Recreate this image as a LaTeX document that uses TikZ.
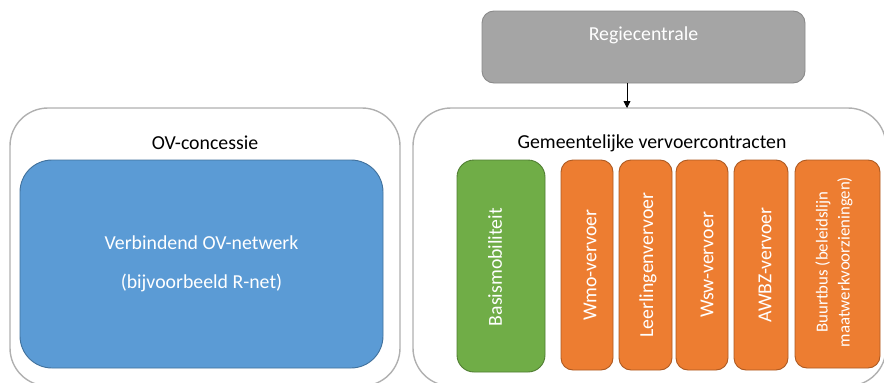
\documentclass[tikz,border=0pt]{standalone}
\usepackage{fontspec}
\setmainfont{Carlito}
\usetikzlibrary{arrows.meta}
\definecolor{outerline}{HTML}{B0B0B0}
\definecolor{grayfill}{HTML}{A5A5A5}
\definecolor{grayline}{HTML}{8A8A8A}
\definecolor{bluefill}{HTML}{5B9BD5}
\definecolor{blueline}{HTML}{41719C}
\definecolor{greenfill}{HTML}{70AD47}
\definecolor{greenline}{HTML}{507E32}
\definecolor{orangefill}{HTML}{ED7D31}
\definecolor{orangeline}{HTML}{AE5A21}
\tikzset{
  box/.style args={#1/#2}{draw, inner sep=0pt, outer sep=0pt, minimum width=#1pt, minimum height=#2pt},
  outerbox/.style={box=#1, draw=outerline, line width=1.4pt, fill=white, rounded corners=38pt},
  ttl/.style={font=\fontsize{19.8}{24}\selectfont, text=black},
  graybox/.style={box=#1, fill=grayfill, draw=grayline, line width=0.9pt, rounded corners=12pt},
  bluebox/.style={box=#1, fill=bluefill, draw=blueline, line width=0.9pt, rounded corners=32pt,
    text=white, font=\fontsize{19.8}{24}\selectfont, align=center},
  greenbox/.style={box=#1, fill=greenfill, draw=greenline, line width=0.9pt, rounded corners=17pt},
  orangebox/.style={box=#1, fill=orangefill, draw=orangeline, line width=0.9pt, rounded corners=12pt},
  vtext/.style={rotate=90, text=white, font=\fontsize{19.8}{24}\selectfont, inner sep=0pt},
}
\begin{document}
\begin{tikzpicture}[x=1pt,y=-1pt]
\useasboundingbox (0,0) rectangle (884,383);
\clip (0,0) rectangle (884,383);
% outer containers
\node[outerbox=390/278] (ov) at (205,247) {};
\node[outerbox=473/278] (gem) at (649.5,247) {};
\node[ttl] (ovt) at (205,143) {OV-concessie};
\node[ttl] (gemt) at (652,143) {Gemeentelijke vervoercontracten};
% Regiecentrale
\node[graybox=323/72] (regie) at (643.5,47) {};
\node[text=white, font=\fontsize{19.8}{24}\selectfont] (regiet) at (643.5,35) {Regiecentrale};
% arrow
\coordinate (ax) at (627,0);
\draw[line width=0.8pt, -{Triangle[width=7pt,length=7pt]}] (regie.south -| ax) -- (gem.north -| ax);
% blue
\node[bluebox=363/208] (blue) at (201.5,264) {Verbindend OV-netwerk\\[15pt](bijvoorbeeld R-net)};
% green
\node[greenbox=88/212] (green) at (501,266) {};
\node[vtext] (greent) at (495,267) {Basismobiliteit};
% orange
\node[orangebox=52/210] (o1) at (587,265) {};
\node[orangebox=53/210] (o2) at (645.5,265) {};
\node[orangebox=52/210] (o3) at (702,265) {};
\node[orangebox=54/210] (o4) at (761,265) {};
\node[orangebox=85/208] (o5) at (837.5,264) {};
\node[vtext] (o1t) at (590,265) {Wmo-vervoer};
\node[vtext] (o2t) at (648,265) {Leerlingenvervoer};
\node[vtext] (o3t) at (707,265) {Wsw-vervoer};
\node[vtext] (o4t) at (765,265) {AWBZ-vervoer};
\node[rotate=90, text=white, font=\fontsize{16.8}{22}\selectfont, align=center, inner sep=0pt] (o5t) at (834,262) {Buurtbus (beleidslijn\\maatwerkvoorzieningen)};
\end{tikzpicture}
\end{document}
